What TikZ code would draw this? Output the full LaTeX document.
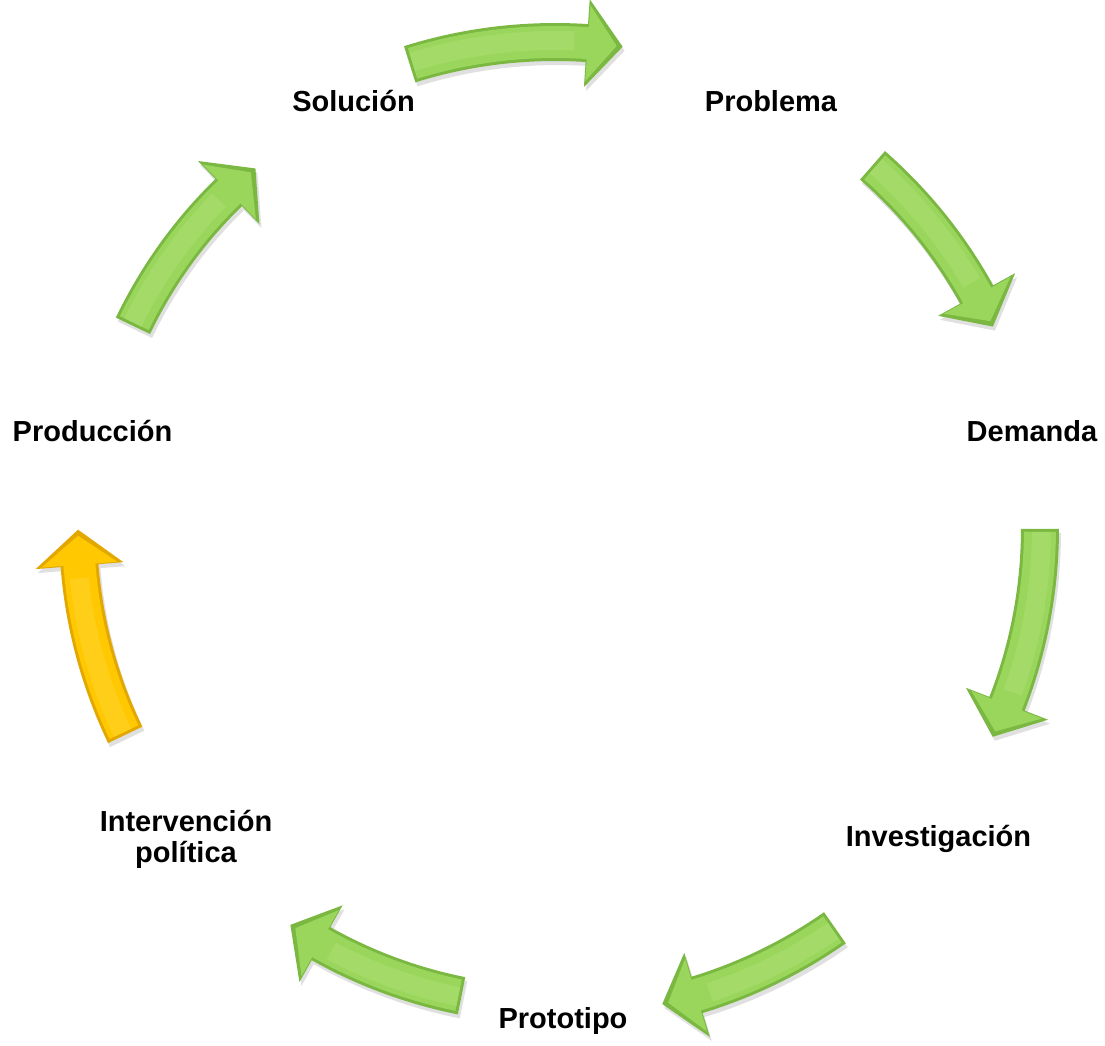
\documentclass[tikz,border=0pt]{standalone}
\usepackage{fontspec}
\setmainfont{Liberation Sans}
\definecolor{gEdge}{HTML}{7AB842}
\definecolor{gMain}{HTML}{9AD65C}
\definecolor{gHi}{HTML}{B4E37C}
\definecolor{yEdge}{HTML}{E2A800}
\definecolor{yMain}{HTML}{FFC800}
\definecolor{yHi}{HTML}{FFD940}
% #1 start angle, #2 tip angle, #3 radius, #4 edge, #5 main, #6 highlight
\newcommand\cyclearrow[6]{%
  \pgfmathsetmacro\caHB{#2+36/#3*57.2958}%
  \pgfmathsetmacro\caRO{#3+19}\pgfmathsetmacro\caRI{#3-19}%
  \pgfmathsetmacro\caHO{#3+44}\pgfmathsetmacro\caHI{#3-44}%
  \pgfmathsetmacro\caS{#1-3/#3*57.2958}%
  \pgfmathsetmacro\caT{#2+6/#3*57.2958}%
  \pgfmathsetmacro\caHBi{\caHB-1/#3*57.2958}%
  \pgfmathsetmacro\caROi{#3+16}\pgfmathsetmacro\caRIi{#3-16}%
  \pgfmathsetmacro\caHOi{#3+38}\pgfmathsetmacro\caHIi{#3-38}%
  \pgfmathsetmacro\caRa{#3-8}\pgfmathsetmacro\caRb{#3+11}%
  \pgfmathsetmacro\caHBh{\caHB+1.5}%
  \fill[black,opacity=0.12,shift={(2pt,-4pt)}]
    (#1:\caRO pt) arc[start angle=#1,end angle=\caHB,radius=\caRO pt]
    -- (\caHB:\caHO pt) -- (#2:#3 pt) -- (\caHB:\caHI pt) -- (\caHB:\caRI pt)
    arc[start angle=\caHB,end angle=#1,radius=\caRI pt] -- cycle;
  \fill[#4]
    (#1:\caRO pt) arc[start angle=#1,end angle=\caHB,radius=\caRO pt]
    -- (\caHB:\caHO pt) -- (#2:#3 pt) -- (\caHB:\caHI pt) -- (\caHB:\caRI pt)
    arc[start angle=\caHB,end angle=#1,radius=\caRI pt] -- cycle;
  \fill[#5]
    (\caS:\caROi pt) arc[start angle=\caS,end angle=\caHBi,radius=\caROi pt]
    -- (\caHBi:\caHOi pt) -- (\caT:#3 pt) -- (\caHBi:\caHIi pt) -- (\caHBi:\caRIi pt)
    arc[start angle=\caHBi,end angle=\caS,radius=\caRIi pt] -- cycle;
  \fill[#6,opacity=0.4]
    (\caS:\caRb pt) arc[start angle=\caS,end angle=\caHBh,radius=\caRb pt]
    -- (\caHBh:\caRa pt)
    arc[start angle=\caHBh,end angle=\caS,radius=\caRa pt] -- cycle;
}
\tikzset{lbl/.style={font=\fontsize{29}{31}\selectfont\bfseries,inner sep=0pt,anchor=base,align=center}}
\begin{document}
\begin{tikzpicture}[x=1pt,y=1pt]
\useasboundingbox[fill=white] (0,0) rectangle (1105,-1045);
\begin{scope}[shift={(555,-528)}]
  \cyclearrow{107.4}{82.0}{486}{gEdge}{gMain}{gHi}
  \cyclearrow{48.8}{24.7}{482}{gEdge}{gMain}{gHi}
  \cyclearrow{-0.1}{-25.5}{485}{gEdge}{gMain}{gHi}
  \cyclearrow{-55.0}{-77.3}{488}{gEdge}{gMain}{gHi}
  \cyclearrow{-101.3}{-123.7}{477}{gEdge}{gMain}{gHi}
  \cyclearrow{205.7}{180.2}{477}{yEdge}{yMain}{yHi}
  \cyclearrow{154.4}{129.8}{468}{gEdge}{gMain}{gHi}
\end{scope}
\node[lbl] (sol) at (353.5,-111.5) {Solución};
\node[lbl] (prob) at (771,-111.5) {Problema};
\node[lbl] (dem) at (1032,-441) {Demanda};
\node[lbl] (inv) at (938.5,-846) {Investigación};
\node[lbl] (prot) at (563,-1028) {Prototipo};
\node[lbl] (intp) at (186,-862) {Intervención\\política};
\node[lbl] (prod) at (92.5,-441) {Producción};
\end{tikzpicture}
\end{document}
